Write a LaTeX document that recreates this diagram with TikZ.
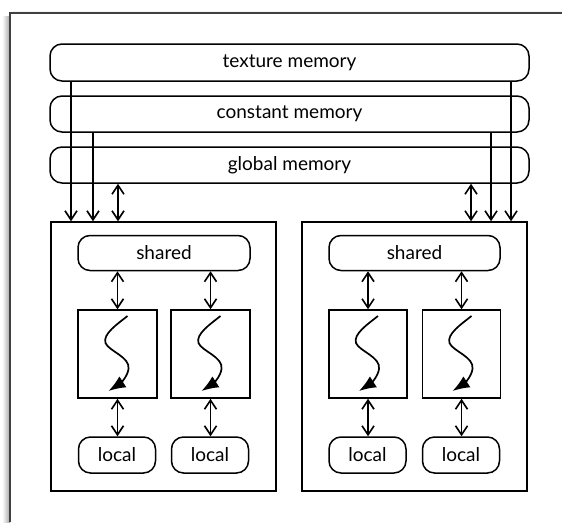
\documentclass[tikz,border=0pt]{standalone}
\usepackage{fontspec}
\setmainfont{Lato}
\usetikzlibrary{arrows.meta}
\tikzset{
  bar/.style={draw, line width=1.5pt, rounded corners=12pt, fill=white, font=\fontsize{19}{22}\selectfont, inner sep=0pt},
  blockbox/.style={draw, line width=1.5pt, inner sep=0pt},
  tbox/.style={draw, line width=1.5pt, inner sep=0pt, minimum height=88pt},
  arr/.style={line width=1.5pt, -{Straight Barb[length=9pt,width=12pt,line width=1.6pt]}},
  darr/.style={line width=1.5pt, {Straight Barb[length=9pt,width=12pt,line width=1.6pt]}-{Straight Barb[length=9pt,width=12pt,line width=1.6pt]}},
  snk/.style={line width=1.7pt, -{Latex[length=17pt,width=13pt]}},
  worm/.pic={\draw[snk] (10,-38) .. controls (0,-30) and (-15,-20) .. (-12,-11) .. controls (-9,-3) and (13,3) .. (11,15) .. controls (10,23) and (2,30) .. (-9,37);}
}
\begin{document}
\begin{tikzpicture}[x=1pt,y=-1pt]
\useasboundingbox (0,0) rectangle (562,522);
% outer frame with shadow
\shade[left color=white, right color=black!35] (2,16) rectangle (10,522);
\shade[top color=white, bottom color=black!12] (12,10) rectangle (562,13);
\draw[line width=1.3pt, black!75] (10,522) -- (10,13) -- (562,13);

% memory bars
\node[bar, minimum width=479pt, minimum height=37pt] (tex) at (289.5,62.5) {texture memory};
\node[bar, minimum width=479pt, minimum height=36pt] (con) at (289.5,114) {constant memory};
\node[bar, minimum width=479pt, minimum height=36pt] (glo) at (289.5,165) {global memory};

% blocks
\node[blockbox, minimum width=225pt, minimum height=269pt] (bL) at (163.5,356.5) {};
\node[blockbox, minimum width=225pt, minimum height=269pt] (bR) at (414.5,356.5) {};

% shared
\node[bar, minimum width=172pt, minimum height=35pt] (sL) at (164,253) {shared};
\node[bar, minimum width=171pt, minimum height=35pt] (sR) at (414.5,253) {shared};

% threads
\node[tbox, minimum width=79pt] (tL1) at (117.5,354) {};
\node[tbox, minimum width=79pt] (tL2) at (210.5,354) {};
\node[tbox, minimum width=78pt] (tR1) at (368,354) {};
\node[tbox, minimum width=78pt] (tR2) at (461.5,354) {};
\foreach \t in {tL1,tL2,tR1,tR2} { \pic at (\t.center) {worm}; }

% locals
\node[bar, minimum width=77pt, minimum height=36pt] (lL1) at (117,455) {local};
\node[bar, minimum width=77pt, minimum height=36pt] (lL2) at (210,455) {local};
\node[bar, minimum width=77pt, minimum height=36pt] (lR1) at (367.5,455) {local};
\node[bar, minimum width=77pt, minimum height=36pt] (lR2) at (461,455) {local};

% arrows from memories to blocks
\coordinate (xa) at (71,0);
\coordinate (xb) at (93,0);
\coordinate (xc) at (118,0);
\coordinate (xd) at (471,0);
\coordinate (xe) at (491,0);
\coordinate (xf) at (511,0);
\draw[arr] (xa |- tex.south) -- (xa |- bL.north);
\draw[arr] (xb |- con.south) -- (xb |- bL.north);
\draw[darr] (xc |- glo.south) -- (xc |- bL.north);
\draw[darr] (xd |- glo.south) -- (xd |- bR.north);
\draw[arr] (xe |- con.south) -- (xe |- bR.north);
\draw[arr] (xf |- tex.south) -- (xf |- bR.north);

% shared <-> threads, threads <-> locals
\foreach \s/\t/\l in {sL/tL1/lL1, sL/tL2/lL2, sR/tR1/lR1, sR/tR2/lR2} {
  \draw[darr] (\t.north |- \s.south) -- (\t.north);
  \draw[darr] (\t.south) -- (\t.south |- \l.north);
}
\end{tikzpicture}
\end{document}
